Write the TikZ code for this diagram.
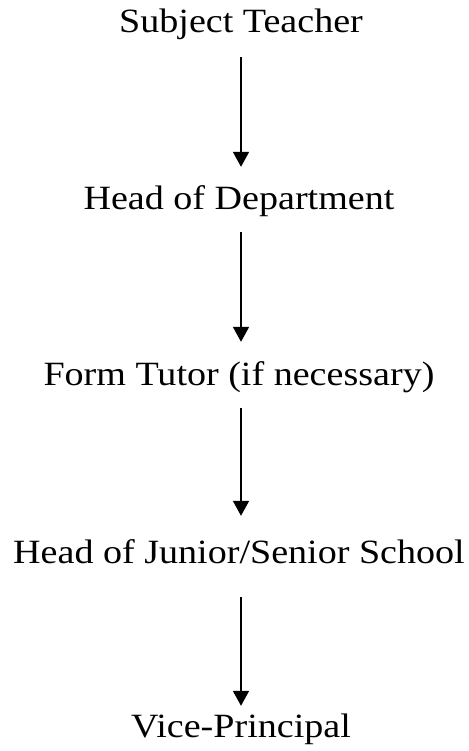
\documentclass[tikz,border=0pt]{standalone}
\usepackage{fontspec}
\setmainfont[FakeStretch=1.12]{Liberation Serif}
\usetikzlibrary{arrows.meta}
\begin{document}
\begin{tikzpicture}[x=1pt,y=-1pt,
  lbl/.style={anchor=base,inner sep=0pt,text height=24pt,text depth=8pt,font=\fontsize{34}{40}\selectfont},
  arr/.style={line width=1.8pt,-{Triangle[width=16pt,length=15pt]}}]
\useasboundingbox (0,0) rectangle (468,751);
\node[lbl] (a) at (241,33) {Subject Teacher};
\node[lbl] (b) at (239,210) {Head of Department};
\node[lbl] (c) at (239,385) {Form Tutor (if necessary)};
\node[lbl] (d) at (239,563) {Head of Junior/Senior School};
\node[lbl] (e) at (241,737) {Vice-Principal};
\draw[arr,shorten <=16pt,shorten >=19pt] (a.south -| 241,0) -- (b.north -| 241,0);
\draw[arr,shorten <=14pt,shorten >=19pt] (b.south -| 241,0) -- (c.north -| 241,0);
\draw[arr,shorten <=15pt,shorten >=23pt] (c.south -| 241,0) -- (d.north -| 241,0);
\draw[arr,shorten <=26pt,shorten >=7pt] (d.south -| 241,0) -- (e.north -| 241,0);
\end{tikzpicture}
\end{document}
